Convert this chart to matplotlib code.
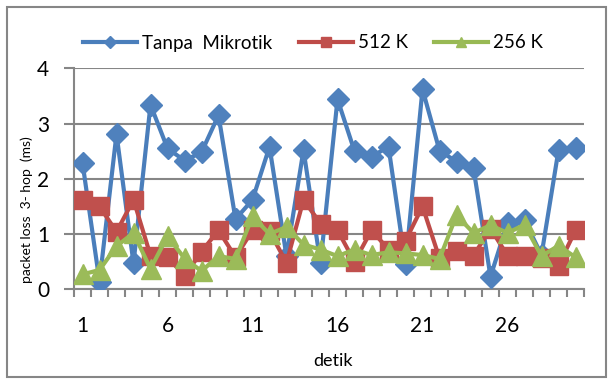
import numpy as np
import matplotlib.pyplot as plt
from matplotlib.patches import Rectangle

detik = list(range(1, 31))
tanpa_mikrotik = [2.29, 0.14, 2.81, 0.47, 3.34, 2.55, 2.33, 2.48, 3.15, 1.27,
                  1.62, 2.58, 0.60, 2.52, 0.47, 3.44, 2.50, 2.40, 2.58, 0.45,
                  3.62, 2.51, 2.31, 2.19, 0.23, 1.20, 1.25, 0.62, 2.52, 2.55]
k512 = [1.62, 1.50, 1.04, 1.62, 0.61, 0.59, 0.24, 0.68, 1.07, 0.58,
        1.07, 1.05, 0.48, 1.62, 1.19, 1.07, 0.50, 1.07, 0.72, 0.88,
        1.50, 0.56, 0.70, 0.61, 1.10, 0.61, 0.60, 0.56, 0.43, 1.07]
k256 = [0.27, 0.35, 0.78, 1.02, 0.37, 0.96, 0.56, 0.33, 0.60, 0.55,
        1.32, 1.00, 1.13, 0.81, 0.72, 0.60, 0.72, 0.62, 0.67, 0.65,
        0.62, 0.55, 1.34, 1.02, 1.16, 1.02, 1.17, 0.60, 0.79, 0.58]
x_labels = [1, 6, 11, 16, 21, 26]

plt.rcParams['font.family'] = ['Lato', 'DejaVu Sans']

fig = plt.figure(figsize=(6.08, 3.79), dpi=100)
ax = fig.add_axes([74 / 608, 89.7 / 379, 510 / 608, 221 / 379])

grey = '#868686'
ax.plot(detik, tanpa_mikrotik, color='#4A7EBB', lw=3, marker='D', ms=11.5,
        mfc='#4F81BD', mec='#4F81BD', label='Tanpa  Mikrotik', zorder=3)
ax.plot(detik, k512, color='#BE4B48', lw=3, marker='s', ms=13,
        mfc='#C0504D', mec='#C0504D', label='512 K', zorder=4)
ax.plot(detik, k256, color='#98B954', lw=3, marker='^', ms=14,
        mfc='#9BBB59', mec='#9BBB59', label='256 K', zorder=5)

ax.set_xlim(0.5, 30.5)
ax.set_ylim(0, 4)
ax.set_yticks([0, 1, 2, 3, 4])
ax.yaxis.grid(True, color=grey, lw=1.5)
ax.set_axisbelow(True)

ax.set_xticks(x_labels)
ax.set_xticks(np.arange(0.5, 31, 1), minor=True)
ax.tick_params(axis='x', which='major', length=0, pad=19, labelsize=15)
ax.tick_params(axis='x', which='minor', length=6, width=1.5, color=grey)
ax.tick_params(axis='y', length=7, width=1.5, color=grey, pad=11, labelsize=15)

for s in ['top', 'right']:
    ax.spines[s].set_visible(False)
for s in ['left', 'bottom']:
    ax.spines[s].set_color(grey)
    ax.spines[s].set_linewidth(1.5)

fig.text(333 / 608, 1 - 361 / 379, 'detik', ha='center', va='center', fontsize=13)
fig.text(27 / 608, 1 - 210 / 379, 'packet loss  3- hop  (ms)', rotation=90,
         ha='center', va='center', fontsize=10)

leg = ax.legend(loc='center', bbox_to_anchor=(313 / 608, 1 - 43 / 379),
                bbox_transform=fig.transFigure, ncol=3, frameon=False,
                fontsize=13.5, handlelength=2.9, handletextpad=0.25,
                columnspacing=1.4, markerscale=0.55)

fig.patches.append(Rectangle((7 / 608, 2 / 379), 599 / 608, 370 / 379,
                             transform=fig.transFigure, fill=False,
                             edgecolor=grey, lw=1.5))

fig.savefig('out.png', dpi=100)
